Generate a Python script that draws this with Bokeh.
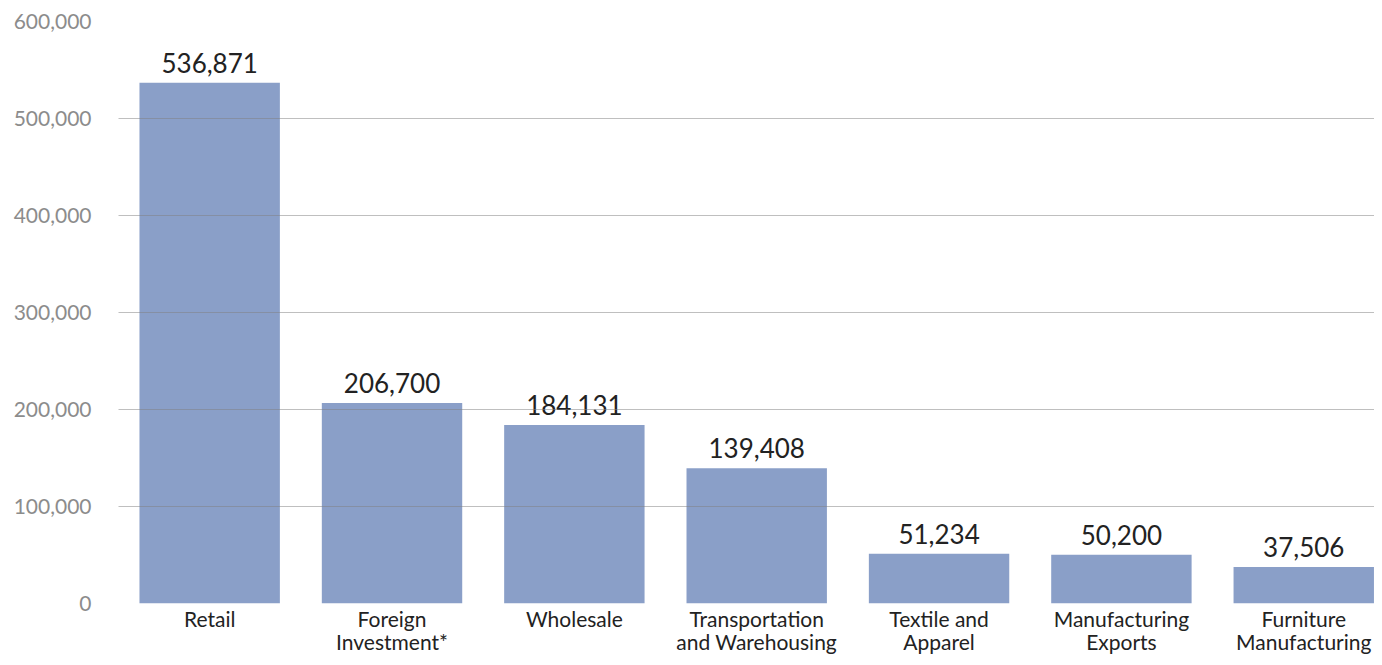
from bokeh.plotting import figure
from bokeh.models import ColumnDataSource, Range1d, FixedTicker, NumeralTickFormatter
from bokeh.core.properties import value
from bokeh.embed import file_html
from bokeh.resources import INLINE

categories = ["Retail", "Foreign\nInvestment*", "Wholesale", "Transportation\nand Warehousing",
              "Textile and\nApparel", "Manufacturing\nExports", "Furniture\nManufacturing"]
values = [536871, 206700, 184131, 139408, 51234, 50200, 37506]
y_ticks = [0, 100000, 200000, 300000, 400000, 500000, 600000]

FONT = "Lato"
xs = list(range(len(categories)))
src = ColumnDataSource(dict(x=xs, top=values, label=[f"{v:,}" for v in values]))

p = figure(width=1374, height=657, output_backend="svg", toolbar_location=None,
           x_range=Range1d(-0.5, 6.388), y_range=Range1d(0, 600000),
           min_border_left=118, min_border_right=0, min_border_top=21, min_border_bottom=53)
p.outline_line_color = None
p.background_fill_color = "white"
p.border_fill_color = "white"

p.vbar(x="x", top="top", width=0.77, bottom=0, source=src, fill_color="#8A9FC8", line_color=None)
p.text(x="x", y="top", text="label", source=src, text_align="center", text_baseline="bottom",
       y_offset=-10, text_font=value(FONT), text_font_size="26px", text_color="#222222")

p.xgrid.visible = False
p.ygrid.ticker = FixedTicker(ticks=y_ticks)
p.ygrid.grid_line_color = "#7f7f7f"
p.ygrid.grid_line_alpha = 0.5
p.ygrid.grid_line_width = 1
p.ygrid.level = "overlay"

p.yaxis.ticker = FixedTicker(ticks=y_ticks)
p.yaxis.formatter = NumeralTickFormatter(format="0,0")
p.yaxis.axis_line_color = None
p.yaxis.major_tick_line_color = None
p.yaxis.minor_tick_line_color = None
p.yaxis.major_tick_out = 0
p.yaxis.major_tick_in = 0
p.yaxis.major_label_standoff = 27
p.yaxis.major_label_text_font = FONT
p.yaxis.major_label_text_font_size = "21px"
p.yaxis.major_label_text_color = "#8c8c8c"

p.xaxis.ticker = FixedTicker(ticks=xs)
p.xaxis.major_label_overrides = {i: c for i, c in zip(xs, categories)}
p.xaxis.axis_line_color = None
p.xaxis.major_tick_line_color = None
p.xaxis.minor_tick_line_color = None
p.xaxis.major_tick_out = 0
p.xaxis.major_tick_in = 0
p.xaxis.major_label_standoff = 2
p.xaxis.major_label_text_font = FONT
p.xaxis.major_label_text_font_size = "21px"
p.xaxis.major_label_text_color = "#222222"
p.xaxis.major_label_text_line_height = 0.95

open("out.html", "w").write(file_html(p, INLINE))
